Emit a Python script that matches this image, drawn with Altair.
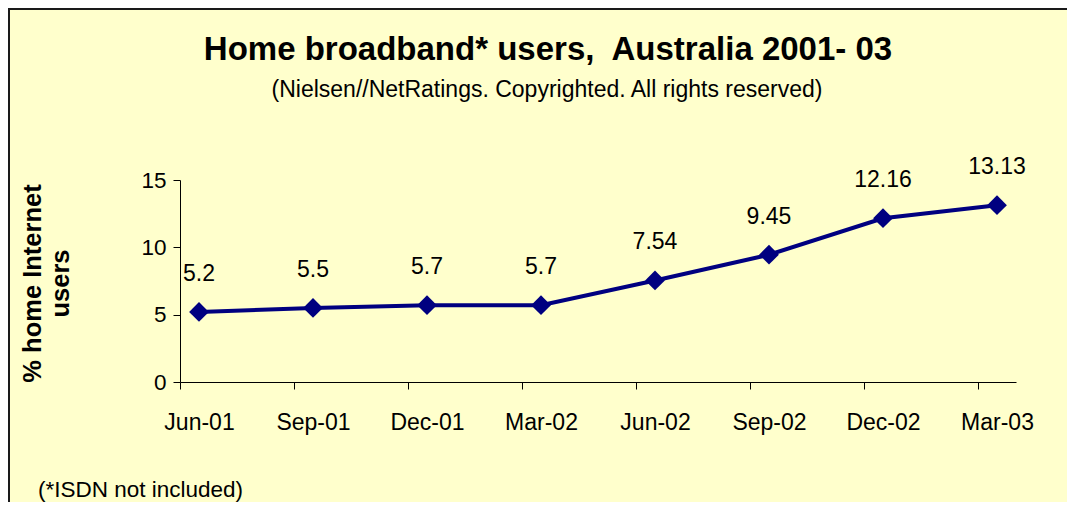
import altair as alt
import pandas as pd

quarters = ["Jun-01", "Sep-01", "Dec-01", "Mar-02", "Jun-02", "Sep-02", "Dec-02", "Mar-03"]
users_pct = [5.2, 5.5, 5.7, 5.7, 7.54, 9.45, 12.16, 13.13]
value_labels = ["5.2", "5.5", "5.7", "5.7", "7.54", "9.45", "12.16", "13.13"]
y_ticks = [0, 5, 10, 15]
title_text = "Home broadband* users,\u00a0 Australia 2001- 03"
subtitle_text = "(Nielsen//NetRatings. Copyrighted. All rights reserved)"
footnote_text = "(*ISDN not included)"
y_title = ["% home Internet", "users"]

df = pd.DataFrame({"quarter": quarters, "pct": users_pct, "label": value_labels})

FONT = "Liberation Sans"
NAVY = "#000080"
W, H = 836, 202

base = alt.Chart(df).encode(
    x=alt.X(
        "quarter:N",
        sort=quarters,
        scale=alt.Scale(type="point", padding=0.1667),
        axis=alt.Axis(
            title=None, labelAngle=0, labelFontSize=23, labelPadding=22,
            tickSize=7, tickOffset=-19, labelOffset=19, grid=False,
            domainColor="#000000", tickColor="#000000", labelColor="#000000",
            domainWidth=1, tickWidth=1,
        ),
    ),
    y=alt.Y(
        "pct:Q",
        scale=alt.Scale(domain=[0, 15], nice=False, zero=True),
        axis=alt.Axis(
            values=y_ticks, title=y_title, titleFontSize=25.5, titleFontWeight="bold",
            titleAngle=270, titleX=-140, titleY=103, titleAlign="center",
            titleBaseline="alphabetic", titleLineHeight=28, titleColor="#000000",
            labelFontSize=22.5, labelPadding=7, tickSize=7, grid=False,
            domainColor="#000000", tickColor="#000000", labelColor="#000000",
            domainWidth=1, tickWidth=1,
        ),
    ),
)

line = base.mark_line(color=NAVY, strokeWidth=4)
points = base.mark_point(shape="diamond", size=390, filled=True, color=NAVY, opacity=1)
labels = base.mark_text(dy=-31, fontSize=23, baseline="alphabetic", align="center",
                        color="#000000").encode(text="label:N")

one = pd.DataFrame({"k": [0]})
border = alt.Chart(one).mark_rect(fill="transparent", stroke="#1a1a1a", strokeWidth=2).encode(
    x=alt.value(-171), y=alt.value(-171), x2=alt.value(W + 200), y2=alt.value(H + 300)
)

title = alt.Chart(pd.DataFrame({"t": [title_text]})).mark_text(
    fontSize=33, fontWeight="bold", align="center", baseline="alphabetic", color="#000000"
).encode(x=alt.value(368), y=alt.value(-120), text="t:N")

subtitle = alt.Chart(pd.DataFrame({"t": [subtitle_text]})).mark_text(
    fontSize=23, align="center", baseline="alphabetic", color="#000000"
).encode(x=alt.value(367), y=alt.value(-83), text="t:N")

footnote = alt.Chart(pd.DataFrame({"t": [footnote_text]})).mark_text(
    fontSize=22.5, align="left", baseline="alphabetic", color="#000000"
).encode(x=alt.value(-142), y=alt.value(317), text="t:N")

chart = alt.layer(border, line, points, labels, title, subtitle, footnote).properties(
    width=W, height=H,
    padding={"left": 172, "top": 172, "right": 51, "bottom": 120},
    autosize="none",
).configure(
    background="#FFFFCC", font=FONT,
).configure_view(stroke="transparent")

chart.save("out.html", embed_options={"renderer": "svg", "actions": False})
